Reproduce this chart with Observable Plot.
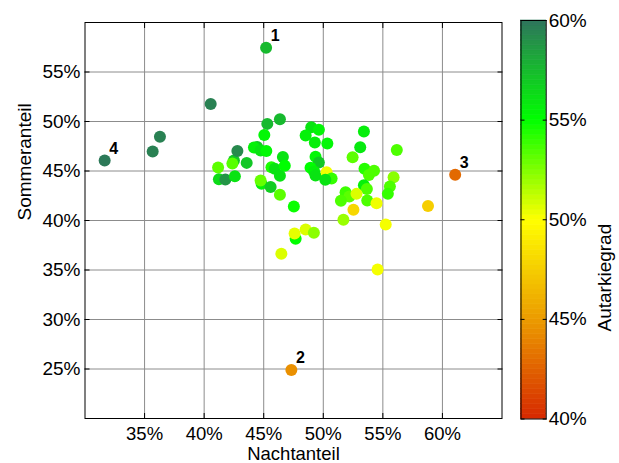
<!DOCTYPE html>
<html><head><meta charset="utf-8">
<script src="https://cdn.jsdelivr.net/npm/d3@7"></script>
<script src="https://cdn.jsdelivr.net/npm/@observablehq/plot@0.6"></script>
<style>
body{margin:0;background:#fff}
#chart{position:relative;width:619px;height:463px;background:#fff}
#chart svg{position:absolute;left:0;top:0;overflow:visible}
</style>
</head><body><div id="chart"></div>
<script>
// Nachtanteil (%), Sommeranteil (%), Autarkiegrad (%)
const nachtanteil = [45.20,47.32,61.07,31.65,42.50,44.82,47.68,40.55,36.29,35.68,45.30,46.36,45.05,42.79,44.45,44.18,44.74,45.22,46.61,41.17,42.37,43.57,45.65,45.93,46.77,46.36,41.24,41.78,42.58,44.74,45.58,46.36,47.53,48.99,49.63,48.52,49.29,50.34,53.41,53.10,52.46,56.17,49.35,49.63,48.93,49.23,49.35,50.28,50.70,50.17,53.46,53.83,54.26,55.90,55.59,55.42,53.41,53.66,51.87,52.19,51.48,52.79,52.53,53.69,54.47,58.79,51.69,55.24,47.59,48.52,49.21,46.48,54.56];
const sommeranteil = [57.46,24.91,44.61,46.05,46.05,43.70,38.15,51.76,48.45,46.96,49.76,50.22,48.63,47.01,47.42,47.37,47.06,47.01,46.41,45.35,45.75,45.82,45.38,45.22,45.53,44.51,44.17,44.14,44.46,44.04,43.38,42.60,41.41,49.41,49.16,48.58,47.87,47.77,48.98,47.40,46.39,47.13,46.43,45.85,45.32,44.94,44.54,44.87,44.24,44.11,45.22,44.59,45.02,44.37,43.43,42.69,43.56,43.18,42.86,42.42,41.99,42.69,41.09,42.02,41.75,41.46,40.07,39.60,38.69,39.09,38.76,36.64,35.04];
const autarkiegrad = [57.5,44.5,42.8,59.8,57.0,55.5,55.0,59.5,59.5,59.5,57.5,57.5,55.3,59.2,57.0,55.5,56.0,55.2,56.0,53.2,53.3,57.0,54.5,56.0,55.0,56.0,56.3,58.8,56.0,53.0,56.8,53.2,54.8,56.0,55.4,55.5,55.6,55.3,55.6,55.8,53.2,53.5,55.3,57.0,55.0,55.5,56.0,50.3,54.0,56.0,54.3,53.5,53.5,52.3,53.5,54.0,55.5,53.5,53.8,53.2,53.5,50.7,48.0,53.5,50.3,47.5,52.0,50.2,50.5,50.7,52.3,50.7,50.2];
const labelIndex = [0, 1, 2, 3];
const labelText = ["1", "2", "3", "4"];
const xTicks = [35, 40, 45, 50, 55, 60];
const yTicks = [25, 30, 35, 40, 45, 50, 55];
const colorTicks = [40, 45, 50, 55, 60];
const colorStops = [40, 45, 50, 55, 60];
const colorRange = ["#d62800", "#ec9c00", "#ffff00", "#00ff00", "#2e735c"];

const pts = nachtanteil.map((x, i) => ({x, y: sommeranteil[i], a: autarkiegrad[i]}));
const labels = labelIndex.map((i, k) => ({x: nachtanteil[i], y: sommeranteil[i], t: labelText[k]}));
const pct = d => `${d}%`;
const font = "Liberation Sans, Arial, Helvetica, sans-serif";
const colorScale = {type: "linear", domain: colorStops, range: colorRange, interpolate: "rgb"};

const main = Plot.plot({
  width: 619, height: 463,
  marginLeft: 84.5, marginRight: 117.5, marginTop: 22, marginBottom: 45,
  x: {domain: [30, 65], label: null},
  y: {domain: [20, 60], label: null},
  color: colorScale,
  style: {fontFamily: font, fontSize: "18.5px", color: "#000", background: "#fff"},
  marks: [
    Plot.gridX(xTicks, {stroke: "#8c8c8c", strokeOpacity: 1, strokeWidth: 1}),
    Plot.gridY(yTicks, {stroke: "#8c8c8c", strokeOpacity: 1, strokeWidth: 1}),
    Plot.frame({stroke: "#000", strokeWidth: 1}),
    Plot.axisX(xTicks, {anchor: "bottom", tickSize: -5, tickPadding: 13, tickFormat: pct, label: null, fontSize: 18.5}),
    Plot.axisX(xTicks, {anchor: "top", tickSize: -5, tickFormat: () => "", label: null}),
    Plot.axisY(yTicks, {anchor: "left", tickSize: -5, tickPadding: 9.5, tickFormat: pct, label: null, fontSize: 19}),
    Plot.axisY(yTicks, {anchor: "right", tickSize: -5, tickFormat: () => "", label: null}),
    Plot.dot(pts, {x: "x", y: "y", fill: "a", r: 6, stroke: null}),
    Plot.text(labels, {x: "x", y: "y", text: "t", dx: 9, dy: -12, fontWeight: "bold", fontSize: 16, fill: "#000"}),
    Plot.text(["Nachtanteil"], {frameAnchor: "bottom", dy: 36, lineAnchor: "middle", fontSize: 18.5, fill: "#000"}),
    Plot.text(["Sommeranteil"], {frameAnchor: "left", dx: -60, rotate: -90, lineAnchor: "middle", fontSize: 19, fill: "#000"})
  ]
});

const step = 0.25;
const bands = d3.range(colorStops[0], colorStops[colorStops.length - 1], step);
const bar = Plot.plot({
  width: 619, height: 463,
  marginLeft: 520.5, marginRight: 73.3, marginTop: 20, marginBottom: 44.5,
  y: {domain: [colorStops[0], colorStops[colorStops.length - 1]], label: null},
  color: colorScale,
  style: {fontFamily: font, fontSize: "19px", color: "#000", background: "transparent"},
  marks: [
    Plot.rect(bands, {y1: d => d, y2: d => d + step, fill: d => d + step / 2, stroke: d => d + step / 2, strokeWidth: 0.6}),
    Plot.frame({stroke: "#000", strokeWidth: 1}),
    Plot.axisY(colorTicks, {anchor: "left", tickSize: -4, tickFormat: () => "", label: null}),
    Plot.axisY(colorTicks, {anchor: "right", tickSize: -4, tickPadding: 6.5, tickFormat: pct, label: null, fontSize: 19}),
    Plot.text(["Autarkiegrad"], {frameAnchor: "right", dx: 58.3, dy: 4, rotate: -90, lineAnchor: "middle", fontSize: 19, fill: "#000"})
  ]
});
bar.style.background = "transparent";
bar.style.pointerEvents = "none";

const chart = document.getElementById("chart");
chart.appendChild(main);
chart.appendChild(bar);
</script>
</body></html>
